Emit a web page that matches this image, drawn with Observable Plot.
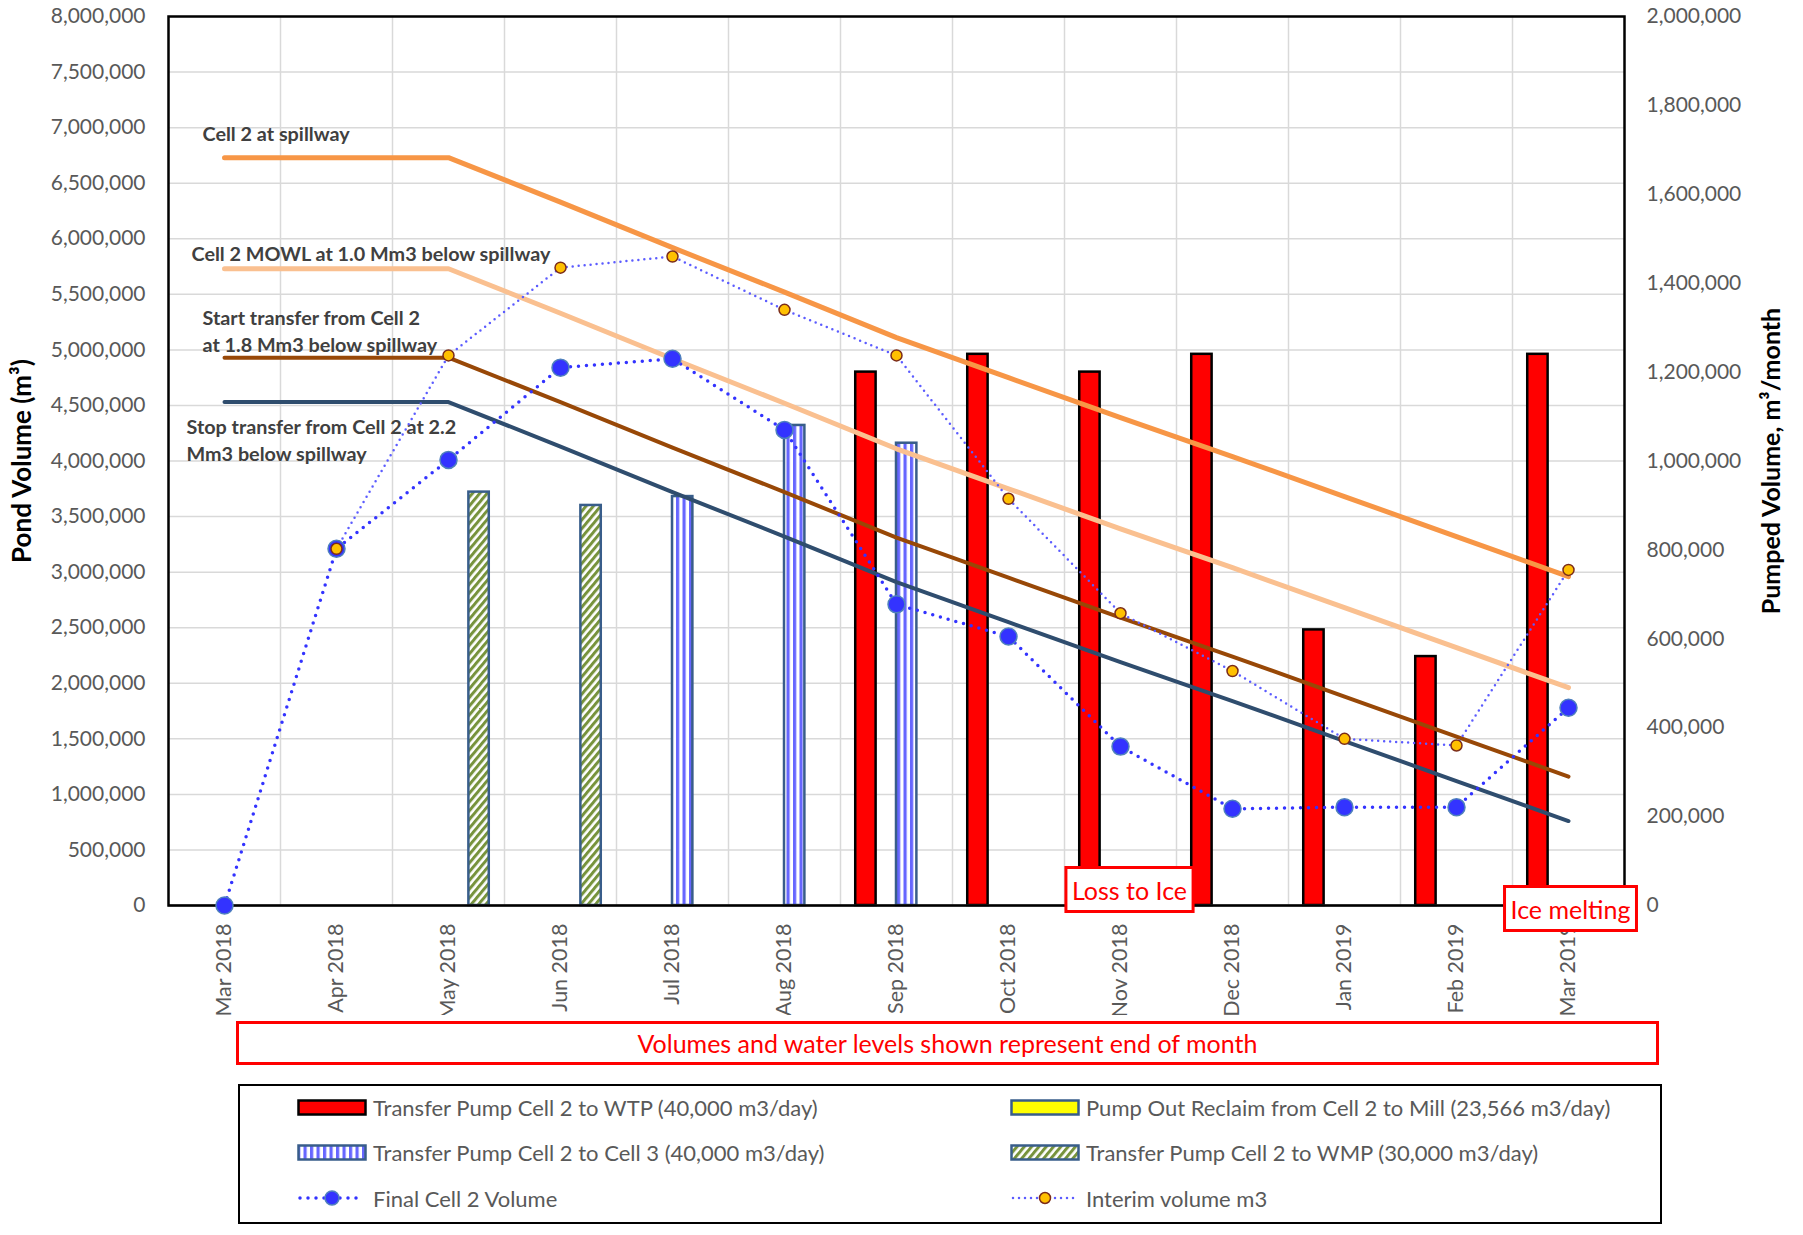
<!DOCTYPE html>
<html>
<head>
<meta charset="utf-8">
<script src="https://cdn.jsdelivr.net/npm/d3@7"></script>
<script src="https://cdn.jsdelivr.net/npm/@observablehq/plot@0.6"></script>
<style>
  html, body { margin: 0; padding: 0; background: #fff; }
  body { font-family: Lato, "Noto Sans", sans-serif; }
  #page { position: relative; width: 1803px; height: 1235px; overflow: hidden; }
  #chart { position: absolute; left: 0; top: 0; }
  #caption {
    position: absolute; left: 236px; top: 1021px; width: 1423px; height: 44px;
    box-sizing: border-box; border: 3px solid #FF0000; color: #FF0000;
    font-size: 25px; display: flex; align-items: center; justify-content: center;
  }
  #legend {
    position: absolute; left: 238px; top: 1084px; width: 1424px; height: 140px;
    box-sizing: border-box; border: 2.5px solid #000;
  }
  .item { position: absolute; display: flex; align-items: center; height: 30px; color: #595959; font-size: 22px; white-space: nowrap; }
  .item svg { margin-right: 6px; }
</style>
</head>
<body>
<svg width="0" height="0" style="position:absolute">
  <defs>
    <pattern id="vstripes" patternUnits="userSpaceOnUse" width="6.5" height="10">
      <rect width="6.5" height="10" fill="#ffffff"></rect>
      <rect x="0" width="3.2" height="10" fill="#6666FF"></rect>
    </pattern>
    <pattern id="hatch" patternUnits="userSpaceOnUse" width="5.6" height="10" patternTransform="rotate(40)">
      <rect width="5.6" height="10" fill="#ffffff"></rect>
      <rect x="0" width="3" height="10" fill="#77933C"></rect>
    </pattern>
  </defs>
</svg>
<div id="page">
  <div id="chart"></div>
  <div id="caption">Volumes and water levels shown represent end of month</div>
  <div id="legend"></div>
</div>
<script>
// ---------------- DATA ----------------
const months = ["Mar 2018","Apr 2018","May 2018","Jun 2018","Jul 2018","Aug 2018","Sep 2018",
                "Oct 2018","Nov 2018","Dec 2018","Jan 2019","Feb 2019","Mar 2019"];

// Pond volume lines (left axis, m3)
const spillway      = [6730000,6730000,6730000,6330000,5920000,5520000,5110000,4750000,4390000,4040000,3680000,3320000,2960000];
const mowl          = [5730000,5730000,5730000,5330000,4920000,4520000,4110000,3750000,3390000,3040000,2680000,2320000,1960000];
const startTransfer = [4930000,4930000,4930000,4530000,4120000,3720000,3310000,2950000,2590000,2240000,1880000,1520000,1160000];
const stopTransfer  = [4530000,4530000,4530000,4130000,3720000,3320000,2910000,2550000,2190000,1840000,1480000,1120000, 760000];
const finalVolume   = [0,3210000,4010000,4840000,4920000,4280000,2710000,2420000,1430000,870000,885000,885000,1780000];
const interimVolume = [null,3210000,4950000,5740000,5840000,5360000,4950000,3660000,2630000,2110000,1500000,1440000,3020000];

// Pumped volumes (right axis, m3/month)
const pumpWTP   = [0,0,0,0,0,0,1200000,1240000,1200000,1240000,620000,560000,1240000];
const pumpMill  = [0,0,0,0,0,0,0,0,0,0,0,0,0];
const pumpCell3 = [0,0,0,0,920000,1080000,1040000,0,0,0,0,0,0];
const pumpWMP   = [0,0,930000,900000,0,0,0,0,0,0,0,0,0];

const leftTicks  = d3.range(0, 8000001, 500000);
const rightTicks = d3.range(0, 2000001, 200000);

const lineLabels = {
  spillway: "Cell 2 at spillway",
  mowl: "Cell 2 MOWL at 1.0 Mm3 below spillway",
  start: "Start transfer from Cell 2\nat 1.8 Mm3 below spillway",
  stop: "Stop transfer from Cell 2 at 2.2\nMm3 below spillway"
};
const notes = [
  {text: "Loss to Ice", month: "Nov 2018"},
  {text: "Ice melting", month: "Mar 2019"}
];
const seriesNames = {
  wtp: "Transfer Pump Cell 2 to WTP (40,000 m3/day)",
  mill: "Pump Out Reclaim from Cell 2 to Mill (23,566 m3/day)",
  cell3: "Transfer Pump Cell 2 to Cell 3 (40,000 m3/day)",
  wmp: "Transfer Pump Cell 2 to WMP (30,000 m3/day)",
  final: "Final Cell 2 Volume",
  interim: "Interim volume m3"
};

// ---------------- BUILD ----------------
const ratio = leftTicks[leftTicks.length - 1] / rightTicks[rightTicks.length - 1];
const toRows = arr => arr.map((v, i) => ({i, v})).filter(d => d.v != null);

const barSeries = [
  {key: "wtp",   values: pumpWTP,   fill: "#FF0000",        stroke: "#000000"},
  {key: "mill",  values: pumpMill,  fill: "#FFFF00",        stroke: "#385D8A"},
  {key: "cell3", values: pumpCell3, fill: "url(#vstripes)", stroke: "#385D8A"},
  {key: "wmp",   values: pumpWMP,   fill: "url(#hatch)",    stroke: "#385D8A"}
];
const sub = d3.scaleBand().domain(barSeries.map(s => s.key)).range([-0.364, 0.364]);

const barMarks = barSeries.map(s => Plot.rectY(
  s.values.map((v, i) => ({i, v})).filter(d => d.v > 0),
  {
    x1: d => d.i + sub(s.key),
    x2: d => d.i + sub(s.key) + sub.bandwidth(),
    y1: 0,
    y2: d => d.v * ratio,
    fill: s.fill, stroke: s.stroke, strokeWidth: 2.5
  }
));

const levelMarks = [
  {values: spillway, color: "#F79646", w: 5},
  {values: mowl, color: "#FAC090", w: 5},
  {values: startTransfer, color: "#984807", w: 4},
  {values: stopTransfer, color: "#2F4D6E", w: 4}
].map(s => Plot.line(toRows(s.values), {x: "i", y: "v", stroke: s.color, strokeWidth: s.w, strokeLinecap: "round"}));

const firstPt = arr => [{i: 0, v: arr[0]}];
const labelStyle = {x: "i", y: "v", textAnchor: "start", lineAnchor: "middle", fontSize: 19.8, fontWeight: "bold", fill: "#404040", lineHeight: 1.37};

const noteMark = (month, dx, dy) => Plot.text(notes.filter(n => n.month === month), {
  x: n => months.indexOf(n.month), y: 0, text: "text", dx, dy,
  fontSize: 25, fill: "#FF0000", textAnchor: "middle", lineAnchor: "middle"
});

const chart = Plot.plot({
  width: 1803,
  height: 1015,
  marginLeft: 168,
  marginRight: 179,
  marginTop: 16,
  marginBottom: 110,
  style: {fontFamily: "Lato, 'Noto Sans', sans-serif", color: "#595959", background: "#fff"},
  x: {domain: [-0.5, months.length - 0.5], axis: null},
  y: {domain: [0, leftTicks[leftTicks.length - 1]], axis: null},
  marks: [
    Plot.gridY(leftTicks, {stroke: "#D9D9D9", strokeOpacity: 1, strokeWidth: 1.5}),
    Plot.gridX(d3.range(0.5, months.length - 1, 1), {stroke: "#D9D9D9", strokeOpacity: 1, strokeWidth: 1.5}),
    ...barMarks,
    Plot.ruleY([0], {stroke: "#7F7F7F", strokeWidth: 2}),
    Plot.frame({stroke: "#000", strokeWidth: 2.5}),
    Plot.axisY(leftTicks, {anchor: "left", tickSize: 0, tickPadding: 23, tickFormat: d3.format(","), fontSize: 21, label: null}),
    Plot.axisY(rightTicks.map(v => v * ratio), {anchor: "right", tickSize: 0, tickPadding: 22, tickFormat: v => d3.format(",")(v / ratio), fontSize: 21, label: null}),
    Plot.axisX(months.map((_, i) => i), {anchor: "bottom", tickSize: 0, tickPadding: 18, tickRotate: -90, tickFormat: i => months[i], fontSize: 21.5, label: null}),
    Plot.text(["Pond Volume (m³)"], {frameAnchor: "left", textAnchor: "middle", rotate: -90, dx: -146, fontSize: 26, fontWeight: "bold", fill: "#000"}),
    Plot.text(["Pumped Volume, m³/month"], {frameAnchor: "right", textAnchor: "middle", rotate: -90, dx: 147, fontSize: 25, fontWeight: "bold", fill: "#000"}),
    ...levelMarks,
    Plot.text(firstPt(spillway), {...labelStyle, text: () => lineLabels.spillway, dx: -22, dy: -25}),
    Plot.text(firstPt(mowl), {...labelStyle, text: () => lineLabels.mowl, dx: -33, dy: -16}),
    Plot.text(firstPt(startTransfer), {...labelStyle, text: () => lineLabels.start, dx: -22, dy: -28}),
    Plot.text(firstPt(stopTransfer), {...labelStyle, text: () => lineLabels.stop, dx: -38, dy: 37}),
    Plot.line(toRows(finalVolume), {x: "i", y: "v", stroke: "#3333FF", strokeWidth: 3.5, strokeDasharray: "0 8", strokeLinecap: "round"}),
    Plot.line(toRows(interimVolume), {x: "i", y: "v", stroke: "#5C5CFF", strokeWidth: 2.5, strokeDasharray: "0 6", strokeLinecap: "round"}),
    Plot.dot(toRows(finalVolume), {x: "i", y: "v", r: 8.5, fill: "#3333FF", stroke: "#4F81BD", strokeWidth: 1.5}),
    Plot.dot(toRows(interimVolume), {x: "i", y: "v", r: 5.5, fill: "#FFC000", stroke: "#7B2C1A", strokeWidth: 1.5}),
    noteMark("Nov 2018", 9, -14),
    noteMark("Mar 2019", 2, 5)
  ]
});
document.getElementById("chart").append(chart);

// white boxes with red border behind the notes
const noteTexts = notes.map(n => n.text);
const svgNS = "http://www.w3.org/2000/svg";
chart.querySelectorAll("text").forEach(t => {
  if (!noteTexts.includes(t.textContent)) return;
  const bb = t.getBBox();
  const padX = 6, padY = 7;
  const r = document.createElementNS(svgNS, "rect");
  const tr = t.getAttribute("transform");
  if (tr) r.setAttribute("transform", tr);
  r.setAttribute("x", bb.x - padX);
  r.setAttribute("y", bb.y - padY);
  r.setAttribute("width", bb.width + 2 * padX);
  r.setAttribute("height", bb.height + 2 * padY);
  r.setAttribute("fill", "#ffffff");
  r.setAttribute("stroke", "#FF0000");
  r.setAttribute("stroke-width", "3");
  t.parentNode.insertBefore(r, t);
});

// ---------------- LEGEND ----------------
const legend = document.getElementById("legend");
function swatchRect(fill, stroke) {
  return `<svg width="70" height="17"><rect x="1.5" y="1.5" width="67" height="14" fill="${fill}" stroke="${stroke}" stroke-width="2.5"></rect></svg>`;
}
function swatchLine(color, w, dash, r, mfill, mstroke) {
  return `<svg width="70" height="20"><line x1="3" x2="67" y1="10" y2="10" stroke="${color}" stroke-width="${w}" stroke-dasharray="${dash}" stroke-linecap="round"></line><circle cx="35" cy="10" r="${r}" fill="${mfill}" stroke="${mstroke}" stroke-width="1.5"></circle></svg>`;
}
const items = [
  {col: 0, row: 0, sw: swatchRect("#FF0000", "#000"), label: seriesNames.wtp},
  {col: 1, row: 0, sw: swatchRect("#FFFF00", "#385D8A"), label: seriesNames.mill},
  {col: 0, row: 1, sw: swatchRect("url(#vstripes)", "#385D8A"), label: seriesNames.cell3},
  {col: 1, row: 1, sw: swatchRect("url(#hatch)", "#385D8A"), label: seriesNames.wmp},
  {col: 0, row: 2, sw: swatchLine("#3333FF", 3.5, "0 8", 7, "#3333FF", "#4F81BD"), label: seriesNames.final},
  {col: 1, row: 2, sw: swatchLine("#5C5CFF", 2.5, "0 6", 5.5, "#FFC000", "#7B2C1A"), label: seriesNames.interim}
];
const colX = [57, 770], rowY = [6, 51.5, 97];
for (const it of items) {
  const div = document.createElement("div");
  div.className = "item";
  div.style.left = colX[it.col] + "px";
  div.style.top = rowY[it.row] + "px";
  div.innerHTML = it.sw + `<span>${it.label}</span>`;
  legend.append(div);
}
</script>
</body>
</html>
